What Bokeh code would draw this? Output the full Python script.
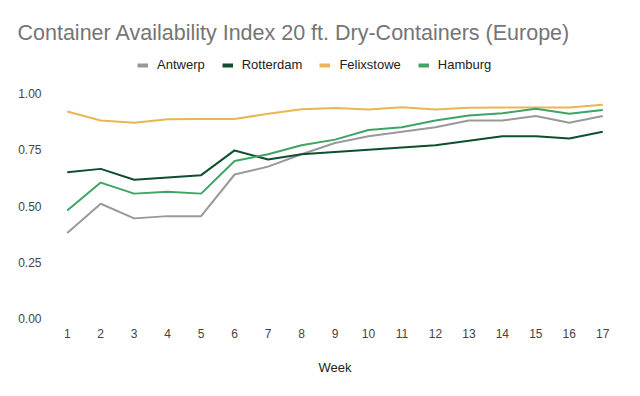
from bokeh.plotting import figure
from bokeh.models import Range1d, Legend, LegendItem, FixedTicker, CustomJSTickFormatter
from bokeh.embed import file_html
from bokeh.resources import INLINE

weeks = list(range(1, 18))
antwerp = [0.38, 0.51, 0.445, 0.455, 0.455, 0.64, 0.675, 0.73, 0.78, 0.81, 0.83, 0.85, 0.88, 0.88, 0.90, 0.87, 0.90]
rotterdam = [0.65, 0.665, 0.617, 0.627, 0.637, 0.747, 0.707, 0.73, 0.74, 0.75, 0.76, 0.77, 0.79, 0.81, 0.81, 0.80, 0.83]
felixstowe = [0.92, 0.88, 0.87, 0.886, 0.887, 0.887, 0.91, 0.93, 0.936, 0.929, 0.939, 0.929, 0.937, 0.938, 0.938, 0.938, 0.95]
hamburg = [0.48, 0.604, 0.555, 0.563, 0.555, 0.70, 0.73, 0.77, 0.795, 0.838, 0.85, 0.88, 0.902, 0.912, 0.932, 0.91, 0.927]
y_ticks = [0.0, 0.25, 0.5, 0.75, 1.0]

series = [
    ("Antwerp", antwerp, "#999999"),
    ("Rotterdam", rotterdam, "#0d4f2e"),
    ("Felixstowe", felixstowe, "#eab553"),
    ("Hamburg", hamburg, "#3fa463"),
]

FONT = "Liberation Sans"

p = figure(width=636, height=392, output_backend="svg", toolbar_location=None,
           x_range=Range1d(0.5, 17.5), y_range=Range1d(0, 268 / 225))
p.min_border_left = 50
p.min_border_right = 17
p.min_border_top = 50
p.min_border_bottom = 74
p.outline_line_color = None
p.background_fill_color = "white"
p.border_fill_color = "white"

p.title.text = "Container Availability Index 20 ft. Dry-Containers (Europe)"
p.title.text_font = FONT
p.title.text_font_size = "21.5px"
p.title.text_font_style = "normal"
p.title.text_color = "#757575"
p.title.offset = -33
p.title.standoff = 11

items = []
for name, vals, col in series:
    r = p.line(weeks, vals, line_color=col, line_width=2)
    # legend key: thicker swatch, no visible points in the plot area
    key = p.line(weeks, [float("nan")] * len(weeks), line_color=col, line_width=4)
    items.append(LegendItem(label=name, renderers=[key]))

legend = Legend(items=items, orientation="horizontal", location=(87, 246))
legend.label_text_font = FONT
legend.label_text_font_size = "13px"
legend.label_text_color = "#222222"
legend.glyph_width = 11
legend.glyph_height = 12
legend.label_standoff = 9
legend.spacing = 17
legend.padding = 0
legend.margin = 0
legend.border_line_color = None
legend.background_fill_alpha = 0
p.add_layout(legend, "center")

p.xgrid.visible = False
p.ygrid.visible = False

p.xaxis.ticker = FixedTicker(ticks=weeks)
p.yaxis.ticker = FixedTicker(ticks=y_ticks)
p.yaxis.formatter = CustomJSTickFormatter(code="return tick.toFixed(2);")
for ax in (p.xaxis[0], p.yaxis[0]):
    ax.axis_line_color = None
    ax.major_tick_line_color = None
    ax.minor_tick_line_color = None
    ax.major_label_text_font = FONT
    ax.major_label_text_font_size = "12px"
    ax.major_label_text_color = "#444444"
p.xaxis.major_label_standoff = 4
p.yaxis.major_label_standoff = 3
p.xaxis.axis_label = "Week"
p.xaxis.axis_label_text_font = FONT
p.xaxis.axis_label_text_font_size = "13px"
p.xaxis.axis_label_text_font_style = "normal"
p.xaxis.axis_label_text_color = "#222222"
p.xaxis.axis_label_standoff = 19

open("out.html", "w").write(file_html(p, INLINE))
